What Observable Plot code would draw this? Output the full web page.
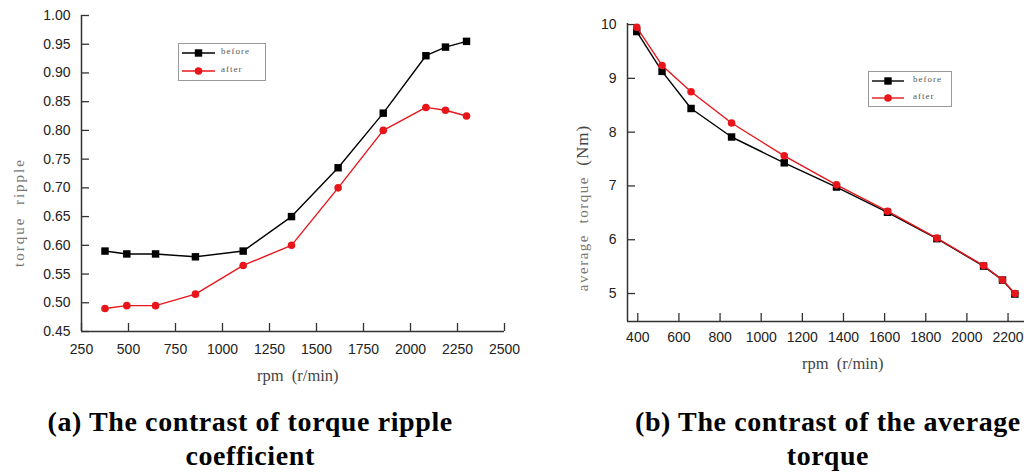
<!DOCTYPE html>
<html><head><meta charset="utf-8">
<script src="https://cdn.jsdelivr.net/npm/d3@7"></script>
<script src="https://cdn.jsdelivr.net/npm/@observablehq/plot@0.6"></script>
<style>
body{margin:0;background:#fff;}
#wrap{position:relative;width:1024px;height:476px;overflow:hidden;background:#fff;}
.cap{position:absolute;font-family:"Liberation Serif","Times New Roman",serif;font-weight:bold;font-size:28px;letter-spacing:0.6px;text-align:center;color:#000;line-height:34px;white-space:nowrap;}
.lab{position:absolute;font-family:"Liberation Serif","Times New Roman",serif;color:#555;white-space:nowrap;text-align:center;}
.leg{position:absolute;border:1px solid #999;background:#fff;}
.leg span{position:absolute;font-family:"Liberation Serif","Times New Roman",serif;font-size:9px;letter-spacing:1px;color:#555;}
</style></head><body><div id="wrap"></div>
<script>
// ---- data ----
const rpmA = [375, 491, 644, 856, 1110, 1367, 1615, 1855, 2082, 2186, 2298];
const rippleBefore = [0.59, 0.585, 0.585, 0.58, 0.59, 0.65, 0.735, 0.83, 0.93, 0.945, 0.955];
const rippleAfter = [0.49, 0.495, 0.495, 0.515, 0.565, 0.60, 0.70, 0.80, 0.84, 0.835, 0.825];
const rpmB = [395, 518, 659, 856, 1112, 1366, 1614, 1854, 2081, 2173, 2233];
const torqueBefore = [9.87, 9.13, 8.44, 7.91, 7.43, 6.98, 6.51, 6.02, 5.51, 5.25, 4.99];
const torqueAfter = [9.95, 9.24, 8.75, 8.17, 7.56, 7.02, 6.53, 6.03, 5.52, 5.25, 5.00];
const ticksAx = [250, 500, 750, 1000, 1250, 1500, 1750, 2000, 2250, 2500];
const ticksAy = [0.45, 0.50, 0.55, 0.60, 0.65, 0.70, 0.75, 0.80, 0.85, 0.90, 0.95, 1.00];
const ticksBx = [400, 600, 800, 1000, 1200, 1400, 1600, 1800, 2000, 2200];
const ticksBy = [5, 6, 7, 8, 9, 10];
const seriesNames = ["before", "after"];
const captionA = ["(a) The contrast of torque ripple", "coefficient"];
const captionB = ["(b) The contrast of the average", "torque"];

const BLACK = "#000", RED = "#e8161b", AX = "#333";
const wrap = document.getElementById("wrap");

const tbl = (xs, ys) => xs.map((x, i) => ({x, y: ys[i]}));
const A0 = tbl(rpmA, rippleBefore), A1 = tbl(rpmA, rippleAfter);
const B0 = tbl(rpmB, torqueBefore), B1 = tbl(rpmB, torqueAfter);

function chart({W, H, mL, mT, mB, mR, xd, yd, xt, yt, yfmt, xpad, ypad, d0, d1}) {
  const ph = H - mT - mB, pw = W - mL - mR;
  return Plot.plot({
    width: W, height: H, marginLeft: mL, marginTop: mT, marginBottom: mB, marginRight: mR,
    x: {domain: xd}, y: {domain: yd},
    style: {fontFamily: "'Liberation Sans', Arial, sans-serif", fontSize: "14px", color: "#222", background: "transparent", overflow: "visible"},
    marks: [
      Plot.axisX(xt, {tickSize: 0, tickPadding: xpad, label: null, tickFormat: d => String(d)}),
      Plot.axisY(yt, {tickSize: 0, tickPadding: ypad, label: null, tickFormat: yfmt}),
      Plot.tickX(xt, {x: d => d, insetTop: ph - 8, stroke: AX, strokeWidth: 1.3}),
      Plot.tickY(yt, {y: d => d, insetRight: pw - 8, stroke: AX, strokeWidth: 1.3}),
      Plot.ruleX([xd[0]], {stroke: AX, strokeWidth: 1.5}),
      Plot.ruleY([yd[0]], {stroke: AX, strokeWidth: 1.5}),
      Plot.line(d0, {x: "x", y: "y", stroke: BLACK, strokeWidth: 1.4}),
      Plot.dot(d0, {x: "x", y: "y", symbol: "square", r: 4.2, fill: BLACK, stroke: null}),
      Plot.line(d1, {x: "x", y: "y", stroke: RED, strokeWidth: 1.4}),
      Plot.dot(d1, {x: "x", y: "y", symbol: "circle", r: 3.8, fill: RED, stroke: null})
    ]
  });
}

function place(el, left, top) {
  el.style.position = "absolute"; el.style.left = left + "px"; el.style.top = top + "px";
  wrap.appendChild(el);
}

place(chart({W: 520, H: 390, mL: 81, mT: 15, mB: 59, mR: 16, xd: [250, 2500], yd: [0.45, 1.0],
  xt: ticksAx, yt: ticksAy, yfmt: d => d.toFixed(2), xpad: 13, ypad: 11, d0: A0, d1: A1}), 0, 0);
place(chart({W: 484, H: 390, mL: 87, mT: 23, mB: 69, mR: 0, xd: [350, 2280], yd: [4.48, 10.02],
  xt: ticksBx, yt: ticksBy, yfmt: d => String(d), xpad: 11, ypad: 11, d0: B0, d1: B1}), 540, 0);

// legends
function legend(left, top, w, h, rows, lineX0, lineX1, labelX) {
  const box = document.createElement("div");
  box.className = "leg";
  box.style.left = left + "px"; box.style.top = top + "px";
  box.style.width = w + "px"; box.style.height = h + "px";
  const svg = d3.create("svg").attr("width", w).attr("height", h).style("position", "absolute").style("left", 0).style("top", 0);
  seriesNames.forEach((name, i) => {
    const col = i === 0 ? BLACK : RED;
    const y = rows[i];
    svg.append("line").attr("x1", lineX0).attr("x2", lineX1).attr("y1", y).attr("y2", y).attr("stroke", col).attr("stroke-width", 1.4);
    const mx = (lineX0 + lineX1) / 2;
    if (i === 0) svg.append("rect").attr("x", mx - 3.7).attr("y", y - 3.7).attr("width", 7.4).attr("height", 7.4).attr("fill", col);
    else svg.append("circle").attr("cx", mx).attr("cy", y).attr("r", 3.8).attr("fill", col);
    const s = document.createElement("span");
    s.textContent = name; s.style.left = labelX + "px"; s.style.top = (y - 7) + "px";
    box.appendChild(s);
  });
  box.appendChild(svg.node());
  wrap.appendChild(box);
}
legend(178, 43, 86, 36, [9, 27], 3, 36, 42);
legend(868, 71, 82, 34, [9, 26], 3, 35, 44);

// axis titles
function label(text, cx, cy, size, rotate, extra) {
  const d = document.createElement("div");
  d.className = "lab";
  d.innerHTML = text;
  d.style.fontSize = size + "px";
  Object.assign(d.style, extra || {});
  wrap.appendChild(d);
  const w = d.offsetWidth, h = d.offsetHeight;
  d.style.left = (cx - w / 2) + "px"; d.style.top = (cy - h / 2) + "px";
  if (rotate) d.style.transform = "rotate(-90deg)";
}
label("torque&nbsp;&nbsp;ripple", 19, 212, 15, true, {letterSpacing: "2px", color: "#777"});
label("rpm&nbsp;&nbsp;(r/min)", 298, 376, 16.5, false, {color: "#444"});
label("average&nbsp;&nbsp;torque&nbsp;&nbsp;<span style='font-size:17px;color:#444;letter-spacing:1px'>(Nm)</span>", 583, 208, 15, true, {letterSpacing: "1.5px", color: "#777"});
label("rpm&nbsp;&nbsp;(r/min)", 843, 364, 16.5, false, {color: "#444"});

// captions
function caption(lines, cx, top) {
  const d = document.createElement("div");
  d.className = "cap";
  d.innerHTML = lines.join("<br>");
  wrap.appendChild(d);
  d.style.left = (cx - d.offsetWidth / 2) + "px"; d.style.top = top + "px";
}
caption(captionA, 250, 405);
caption(captionB, 828, 405);
</script></body></html>
